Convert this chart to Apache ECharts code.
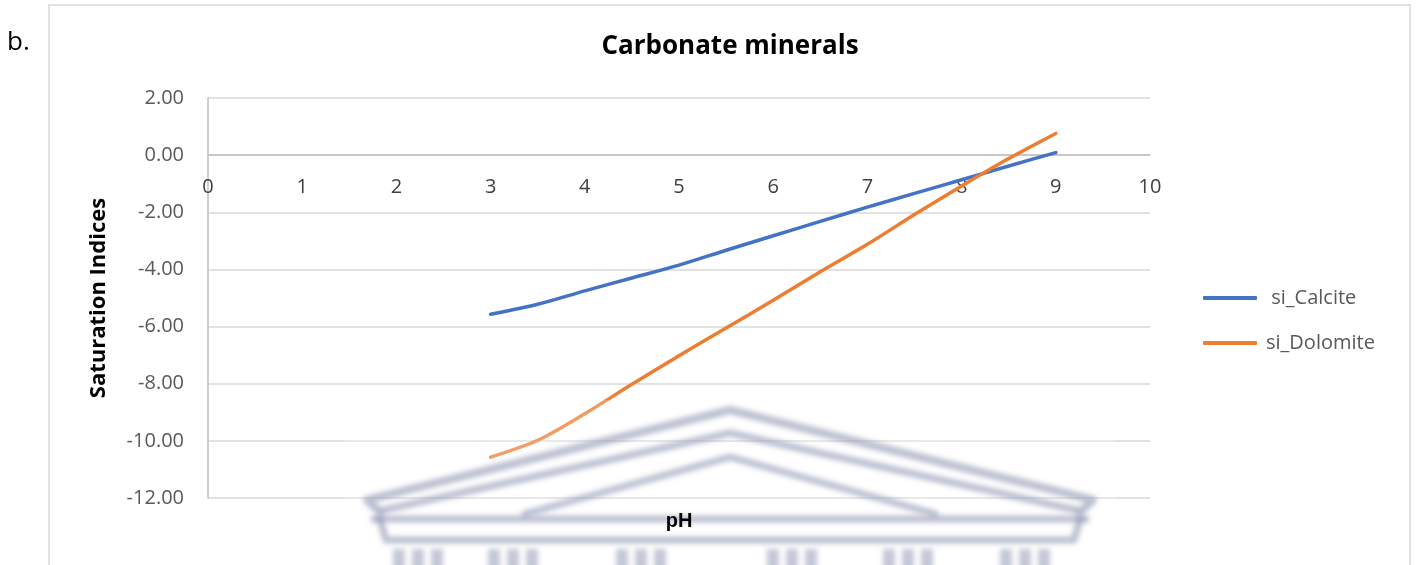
<!DOCTYPE html>
<html>
<head>
<meta charset="utf-8">
<title>Carbonate minerals</title>
<script src="https://cdn.jsdelivr.net/npm/echarts@6/dist/echarts.min.js"></script>
<style>
  html, body { margin: 0; padding: 0; background: #ffffff; }
  #chart { width: 1418px; height: 565px; }
</style>
</head>
<body>
<div id="chart"></div>
<script>
// Saturation indices of carbonate minerals against pH
const phValues = [3, 3.5, 4, 4.5, 5, 5.5, 6, 6.5, 7, 7.5, 8, 8.5, 9];
const siCalcite = [-5.57, -5.22, -4.75, -4.3, -3.85, -3.33, -2.82, -2.32, -1.82, -1.34, -0.86, -0.38, 0.09];
const siDolomite = [-10.57, -9.98, -9.05, -8.02, -7.02, -6.05, -5.08, -4.08, -3.12, -2.08, -1.08, -0.12, 0.76];
const seriesNames = [' si_Calcite', 'si_Dolomite'];
const seriesColors = ['#4472C4', '#ED7D31'];
const xTicks = { min: 0, max: 10, step: 1 };
const yTicks = { min: -12, max: 2, step: 2 };

const pairs = (xs, ys) => xs.map((x, i) => [x, ys[i]]);

// grid geometry, used to lift the pH axis up to the zero line
const gridTop = 98, gridBottom = 67, chartHeight = 565;
const plotHeight = chartHeight - gridTop - gridBottom;
const zeroOffset = -plotHeight * (0 - yTicks.min) / (yTicks.max - yTicks.min);

// faint, blurred emblem across the lower part of the plot:
// each shape is drawn far to the right and only its blurred shadow lands on the page
const SHIFT = 3000;
const emblemShadow = 'rgba(140,146,175,0.58)';
const shift = pts => pts.map(p => [p[0] + SHIFT, p[1]]);
const emblemStroke = (pts, w) => ({
  type: 'polyline', z: 20, silent: true,
  shape: { points: shift(pts) },
  style: { stroke: '#000', lineWidth: w, fill: null, lineJoin: 'round', lineCap: 'round',
           shadowBlur: 5, shadowColor: emblemShadow, shadowOffsetX: -SHIFT, shadowOffsetY: 0 }
});
const columnGroups = [418, 513, 641, 792, 908, 1025];
const emblemColumns = [];
columnGroups.forEach(c => {
  [-19, 0, 19].forEach(d => {
    emblemColumns.push({
      type: 'rect', z: 20, silent: true,
      shape: { x: c + d - 6 + SHIFT, y: 549, width: 12, height: 30 },
      style: { fill: '#000', shadowBlur: 5, shadowColor: 'rgba(140,146,175,0.5)',
               shadowOffsetX: -SHIFT, shadowOffsetY: 0 }
    });
  });
});

const chart = echarts.init(document.getElementById('chart'), null, { renderer: 'canvas' });

chart.setOption({
  animation: false,
  backgroundColor: '#ffffff',
  textStyle: { fontFamily: 'Open Sans' },
  title: {
    text: 'Carbonate minerals',
    left: 725, top: 29, textAlign: 'center',
    textStyle: { fontFamily: 'Open Sans', fontWeight: 'bold', fontSize: 26, color: '#000000' }
  },
  grid: { left: 208, right: 268, top: gridTop, bottom: gridBottom, containLabel: false },
  legend: {
    orient: 'vertical',
    left: 1203, top: 286, padding: 0,
    icon: 'roundRect',
    itemWidth: 54, itemHeight: 4, itemGap: 21,
    textStyle: { fontFamily: 'Open Sans', fontSize: 20, color: '#595959', lineHeight: 24, padding: [0, 0, 0, 4] },
    data: seriesNames
  },
  xAxis: {
    type: 'value',
    position: 'bottom',
    offset: zeroOffset,
    min: xTicks.min, max: xTicks.max, interval: xTicks.step,
    axisLine: { show: true, onZero: false, lineStyle: { color: '#bfbfbf', width: 1.5 } },
    axisTick: { show: false },
    axisLabel: { margin: 22, fontFamily: 'Open Sans', fontSize: 20, color: '#404040' },
    splitLine: { show: false }
  },
  yAxis: {
    type: 'value',
    min: yTicks.min, max: yTicks.max, interval: yTicks.step,
    name: 'Saturation Indices',
    nameLocation: 'middle',
    nameGap: 98,
    nameTextStyle: { fontFamily: 'Open Sans', fontWeight: 'bold', fontSize: 22, color: '#000000' },
    axisLine: { show: true, lineStyle: { color: '#bfbfbf', width: 1.5 } },
    axisTick: { show: false },
    axisLabel: { margin: 24, fontFamily: 'Open Sans', fontSize: 20, color: '#595959',
                 formatter: v => v.toFixed(2) },
    splitLine: { show: true, lineStyle: { color: '#d9d9d9', width: 1.5 } }
  },
  series: [
    {
      name: seriesNames[0], type: 'line', smooth: 0.3, symbol: 'none',
      data: pairs(phValues, siCalcite),
      lineStyle: { color: seriesColors[0], width: 3.5, cap: 'round' },
      itemStyle: { color: seriesColors[0] }, z: 3
    },
    {
      name: seriesNames[1], type: 'line', smooth: 0.3, symbol: 'none',
      data: pairs(phValues, siDolomite),
      lineStyle: { color: seriesColors[1], width: 3.5, cap: 'round' },
      itemStyle: { color: seriesColors[1] }, z: 3
    }
  ],
  graphic: [
    // outer frame
    { type: 'rect', z: 0, silent: true,
      shape: { x: 49, y: 5, width: 1361, height: 620 },
      style: { fill: null, stroke: '#d9d9d9', lineWidth: 1.5 } },
    // panel letter
    { type: 'text', z: 30, x: 7, y: 43,
      style: { text: 'b.', fontFamily: 'Open Sans', fontSize: 26, fill: '#000000',
               textVerticalAlign: 'middle' } },
    // soft haze around the emblem
    { type: 'rect', z: 19, silent: true,
      shape: { x: 345, y: 400, width: 770, height: 200, r: 40 },
      style: { fill: 'rgba(255,255,255,0.2)', shadowBlur: 40, shadowColor: 'rgba(255,255,255,0.4)' } },
    emblemStroke([[380, 512], [367, 500], [730, 410], [1093, 500], [1080, 512]], 8),
    emblemStroke([[384, 510], [730, 433], [1076, 510]], 7),
    emblemStroke([[525, 514], [730, 457], [935, 514]], 7),
    emblemStroke([[374, 519], [1086, 519]], 7),
    emblemStroke([[380, 519], [386, 540], [1074, 540], [1080, 519]], 7),
    ...emblemColumns,
    // x axis title
    { type: 'text', z: 30, x: 679, y: 521,
      style: { text: 'pH', fontFamily: 'Liberation Sans', fontWeight: 'bold', fontSize: 20,
               fill: '#000000', textAlign: 'center', textVerticalAlign: 'middle' } }
  ]
});
</script>
</body>
</html>
